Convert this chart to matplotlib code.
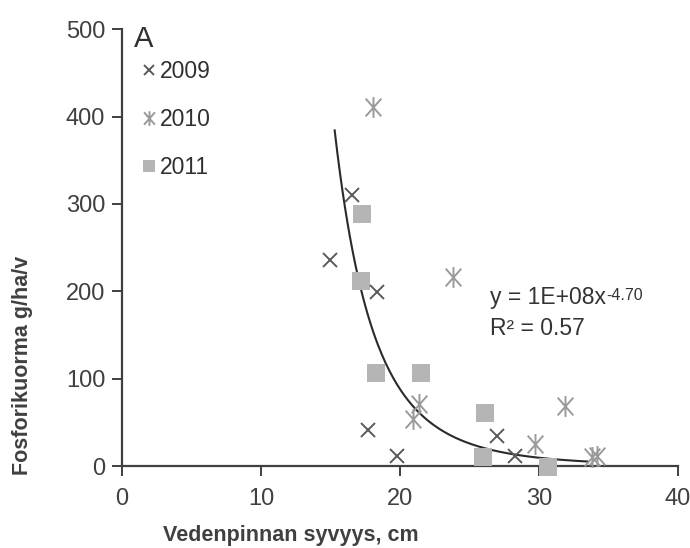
import numpy as np
import matplotlib.pyplot as plt
from matplotlib.path import Path

plt.rcParams["font.family"] = ["Liberation Sans", "DejaVu Sans"]

# =========================
# DATA
# =========================

x_2009 = [15.0, 16.55, 18.35, 17.7, 19.8, 27.0, 28.3]
y_2009 = [236, 310, 199, 41, 12, 34, 11]

x_2010 = [18.05, 23.8, 21.4, 20.9, 31.9, 29.7, 33.8, 34.2]
y_2010 = [411, 216, 71, 54, 69, 25, 10, 12]

x_2011 = [17.25, 17.2, 18.25, 21.5, 26.1, 26.0, 30.65]
y_2011 = [289, 212, 107, 106, 61, 10, -1]

# power trend line as drawn
fit_a = 1.26e9
fit_b = 5.5
fit_range = [15.3, 33.5]

x_ticks = [0, 10, 20, 30, 40]
y_ticks = [0, 100, 200, 300, 400, 500]

# =========================
# MARKERS
# =========================

asterisk = Path(
    [(0, -1), (0, 1), (-0.75, -0.85), (0.75, 0.85), (-0.75, 0.85), (0.75, -0.85)],
    [Path.MOVETO, Path.LINETO, Path.MOVETO, Path.LINETO, Path.MOVETO, Path.LINETO]
)

dark = "#404040"

fig = plt.figure(figsize=(6.9, 5.48), dpi=100)
ax = fig.add_axes([0.1768, 0.1496, 0.8058, 0.797])

xf = np.linspace(fit_range[0], fit_range[1], 200)
ax.plot(xf, fit_a * xf ** (-fit_b), color="#2a2a2a", lw=1.5, zorder=2)

ax.plot(
    x_2011, y_2011,
    linestyle="none", marker="s", markersize=12.5,
    color="#b5b5b5", markeredgewidth=0,
    label="2011", clip_on=False, zorder=3
)

ax.plot(
    x_2009, y_2009,
    linestyle="none", marker="x", markersize=10.5,
    color="#5a5a5a", markeredgewidth=1.4,
    label="2009", clip_on=False, zorder=4
)

ax.plot(
    x_2010, y_2010,
    linestyle="none", marker=asterisk, markersize=15,
    color="#9a9a9a", markeredgewidth=1.4,
    label="2010", clip_on=False, zorder=4
)

ax.set_xlim(0, 40)
ax.set_ylim(0, 500)
ax.set_xticks(x_ticks)
ax.set_yticks(y_ticks)

for side in ["top", "right"]:
    ax.spines[side].set_visible(False)
for side in ["left", "bottom"]:
    ax.spines[side].set_color(dark)
    ax.spines[side].set_linewidth(1.6)

ax.tick_params(
    direction="out", length=7, width=1.4, color=dark,
    labelcolor=dark, labelsize=17, pad=5
)
ax.tick_params(axis="x", pad=9)

ax.set_xlabel("Vedenpinnan syvyys, cm", fontsize=15.5, fontweight="bold", color=dark)
ax.xaxis.set_label_coords(0.304, -0.135)
ax.set_ylabel("Fosforikuorma g/ha/v", fontsize=15.5, fontweight="bold", color=dark)
ax.yaxis.set_label_coords(-0.16, 0.231)

ax.text(0.022, 1.01, "A", transform=ax.transAxes, fontsize=21,
        color="#303030", va="top", ha="left")

handles, labels = ax.get_legend_handles_labels()
order = [1, 2, 0]
ax.legend(
    [handles[i] for i in order], [labels[i] for i in order],
    loc="upper left", bbox_to_anchor=(0.0, 0.977),
    frameon=False, fontsize=16.5, markerscale=0.7,
    handlelength=0.6, handletextpad=0.15, labelspacing=1.1,
    labelcolor="#303030"
)

eq = ax.text(0.661, 0.385, "y = 1E+08x", transform=ax.transAxes,
             fontsize=16.5, color="#333333", va="center", ha="left")
ax.text(0.661, 0.315, "R² = 0.57", transform=ax.transAxes,
        fontsize=16.5, color="#333333", va="center", ha="left")

fig.canvas.draw()
bb = eq.get_window_extent()
ax.annotate(
    "-4.70", xy=(bb.x1, bb.y1), xycoords="figure pixels",
    xytext=(0.5, -1), textcoords="offset points",
    fontsize=11.5, color="#333333", ha="left", va="top"
)

plt.savefig("out.png", dpi=100)
